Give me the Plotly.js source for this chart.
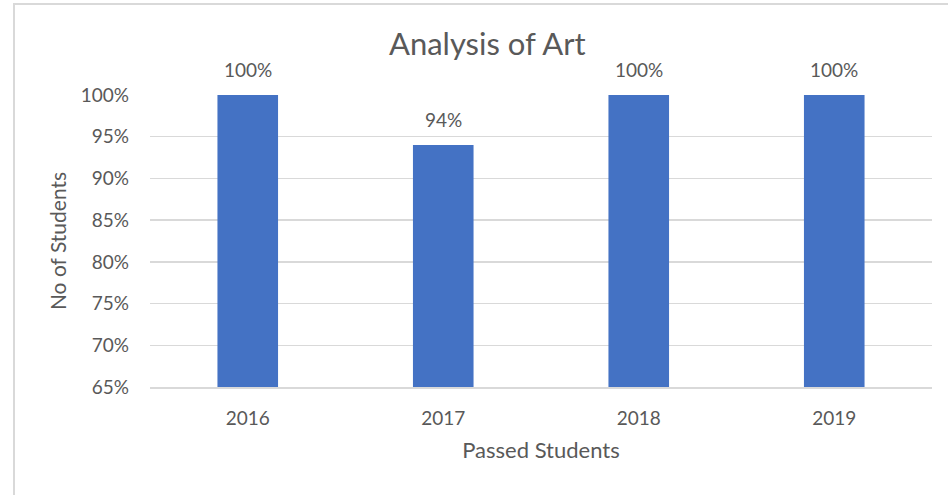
<!DOCTYPE html>
<html>
<head>
<meta charset="utf-8">
<script src="https://cdn.plot.ly/plotly-3.0.1.min.js"></script>
<style>
  html, body { margin: 0; padding: 0; background: #fff; }
  #wrap { position: relative; width: 948px; height: 495px; overflow: hidden; }
  #chart { position: absolute; left: 0; top: 0; width: 948px; height: 495px; }
  #frame { position: absolute; left: 13px; top: 3px; width: 960px; height: 520px;
           border: 2px solid #d9d9d9; box-sizing: border-box; pointer-events: none; }
</style>
</head>
<body>
<div id="wrap">
  <div id="chart"></div>
  <div id="frame"></div>
</div>
<script>
const years = ['2016', '2017', '2018', '2019'];
const passRates = [1.00, 0.94, 1.00, 1.00];
const yTicks = [0.65, 0.70, 0.75, 0.80, 0.85, 0.90, 0.95, 1.00];
const yTickLabels = ['65%', '70%', '75%', '80%', '85%', '90%', '95%', '100%'];
const dataLabels = ['100%', '94%', '100%', '100%'];

const FONT = 'Lato, "Open Sans", sans-serif';
const GREY = '#595959';

const trace = {
  type: 'bar',
  x: years,
  y: passRates,
  marker: { color: '#4472C4' },
  hoverinfo: 'none'
};

const annotations = years.map((yr, i) => ({
  x: i, y: passRates[i], xref: 'x', yref: 'y',
  text: dataLabels[i], showarrow: false,
  yanchor: 'bottom', yshift: 12,
  font: { family: FONT, size: 19, color: GREY }
}));

const layout = {
  width: 948, height: 495,
  margin: { l: 150, r: 16, t: 95, b: 108 },
  paper_bgcolor: '#fff', plot_bgcolor: '#fff',
  showlegend: false,
  bargap: 0.69,
  title: { text: 'Analysis of Art', x: 0.514, xanchor: 'center', y: 0.91, yanchor: 'middle',
           font: { family: FONT, size: 31, color: GREY } },
  xaxis: {
    type: 'category',
    range: [-0.5, years.length - 0.5],
    showgrid: false, showline: true, linecolor: '#d9d9d9', linewidth: 1.5,
    ticks: '', ticklen: 0,
    ticklabelstandoff: 14,
    tickfont: { family: FONT, size: 19, color: GREY },
    title: { text: 'Passed Students', standoff: 14, font: { family: FONT, size: 22, color: GREY } }
  },
  yaxis: {
    range: [0.65, 1.0],
    tickvals: yTicks, ticktext: yTickLabels,
    showgrid: true, gridcolor: '#d9d9d9', gridwidth: 1.5,
    zeroline: false, showline: false, ticks: '',
    ticklabelstandoff: 20,
    tickfont: { family: FONT, size: 19, color: GREY },
    title: { text: 'No of Students', standoff: 8, font: { family: FONT, size: 21, color: GREY } }
  },
  annotations: annotations
};

Plotly.newPlot('chart', [trace], layout, { displayModeBar: false, staticPlot: true });
</script>
</body>
</html>
